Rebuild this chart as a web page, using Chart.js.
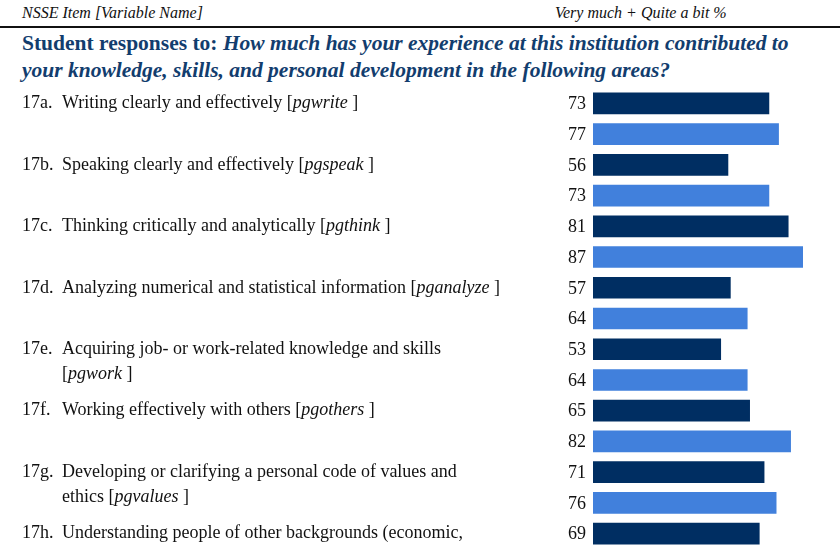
<!DOCTYPE html>
<html>
<head>
<meta charset="utf-8">
<script src="https://cdn.jsdelivr.net/npm/chart.js@4"></script>
<style>
  html, body { margin: 0; padding: 0; background: #fff; }
  body { width: 840px; height: 546px; overflow: hidden; position: relative; font-family: "Liberation Serif", serif; }
  #hdrL { position: absolute; left: 22px; top: 4px; font-style: italic; font-size: 16px; color: #111; }
  #hdrR { position: absolute; left: 555px; top: 4px; font-style: italic; font-size: 16px; color: #111; }
  #rule { position: absolute; left: 0; top: 26px; width: 840px; height: 2px; background: #111; }
  #title { position: absolute; left: 22px; top: 30px; width: 818px; white-space: nowrap; font-weight: bold; font-size: 21.5px; line-height: 27px; color: #123d6e; }
  #title i { font-style: italic; }
  #wrap { position: absolute; left: 0; top: 0; width: 840px; height: 549px; }
</style>
</head>
<body>
<div id="hdrL">NSSE Item [Variable Name]</div>
<div id="hdrR">Very much + Quite a bit %</div>
<div id="rule"></div>
<div id="title">Student responses to: <i>How much has your experience at this institution contributed to<br>your knowledge, skills, and personal development in the following areas?</i></div>
<div id="wrap"><canvas id="chart"></canvas></div>
<script>
// items (italic variable names in {braces})
const itemCodes = ['17a.', '17b.', '17c.', '17d.', '17e.', '17f.', '17g.', '17h.'];
const itemLines = [
    ['Writing clearly and effectively [{pgwrite} ]'],
    ['Speaking clearly and effectively [{pgspeak} ]'],
    ['Thinking critically and analytically [{pgthink} ]'],
    ['Analyzing numerical and statistical information [{pganalyze} ]'],
    ['Acquiring job- or work-related knowledge and skills', '[{pgwork} ]'],
    ['Working effectively with others [{pgothers} ]'],
    ['Developing or clarifying a personal code of values and', 'ethics [{pgvalues} ]'],
    ['Understanding people of other backgrounds (economic,']
];
// % Very much + Quite a bit
const firstYear = [73, 56, 81, 57, 53, 65, 71, 69];
const senior = [77, 73, 87, 64, 64, 82, 76];

const darkBlue = '#002e62';
const lightBlue = '#4180dc';

// interleave: first-year bar then senior bar for each item
const barValues = [];
const barColors = [];
const barLabels = [];
const barItem = [];
firstYear.forEach((v, i) => {
    barValues.push(v); barColors.push(darkBlue); barLabels.push(itemCodes[i] + ' FY'); barItem.push(i);
    if (senior[i] !== undefined) {
        barValues.push(senior[i]); barColors.push(lightBlue); barLabels.push(itemCodes[i] + ' SR'); barItem.push(-1);
    }
});

const FONT = '"Liberation Serif", "Times New Roman", serif';
const SIZE = '18px ';

function drawRich(ctx, text, x, y) {
    const parts = text.split(/(\{[^}]+\})/);
    parts.forEach(p => {
        if (!p) return;
        const it = p.startsWith('{');
        const s = it ? p.slice(1, -1) : p;
        ctx.font = (it ? 'italic ' : '') + SIZE + FONT;
        ctx.fillText(s, x, y);
        x += ctx.measureText(s).width;
    });
}

const labelPlugin = {
    id: 'rowLabels',
    afterDatasetsDraw(chart) {
        const ctx = chart.ctx;
        const yScale = chart.scales.y;
        const meta = chart.getDatasetMeta(0);
        ctx.save();
        ctx.fillStyle = '#111';
        ctx.textBaseline = 'middle';
        meta.data.forEach((bar, idx) => {
            const y = yScale.getPixelForValue(idx);
            // value number
            ctx.font = SIZE + FONT;
            ctx.textAlign = 'right';
            ctx.fillText(String(barValues[idx]), bar.base - 7, y + 1);
            // item text
            const it = barItem[idx];
            if (it >= 0) {
                ctx.textAlign = 'left';
                ctx.font = SIZE + FONT;
                ctx.fillText(itemCodes[it], 22, y);
                itemLines[it].forEach((line, k) => drawRich(ctx, line, 62, y + k * 25));
            }
        });
        ctx.restore();
    }
};

new Chart(document.getElementById('chart').getContext('2d'), {
    type: 'bar',
    data: {
        labels: barLabels,
        datasets: [{
            data: barValues,
            backgroundColor: barColors,
            borderWidth: 0,
            barThickness: 21
        }]
    },
    options: {
        indexAxis: 'y',
        responsive: true,
        maintainAspectRatio: false,
        animation: false,
        layout: { padding: { left: 593, right: 6, top: 88, bottom: 0 } },
        scales: {
            x: { min: 0, max: 100, display: false },
            y: { display: false, grid: { display: false } }
        },
        plugins: {
            legend: { display: false },
            tooltip: { enabled: false }
        }
    },
    plugins: [labelPlugin]
});
</script>
</body>
</html>
